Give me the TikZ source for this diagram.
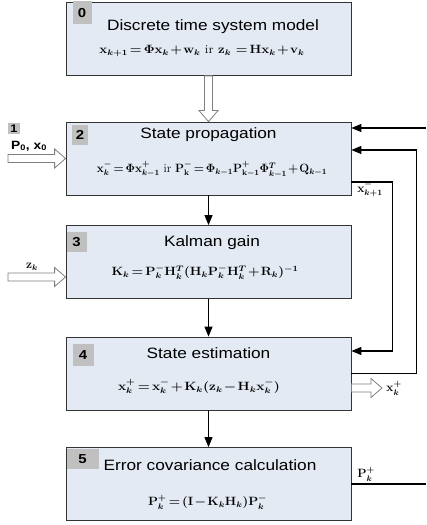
\documentclass[tikz,border=0pt]{standalone}
\usepackage{amsmath}
\usepackage{graphicx}
\usepackage{fontspec}
\newfontfamily\titlefont[FakeStretch=1.15]{Liberation Sans}
\usetikzlibrary{arrows.meta,calc}

\definecolor{boxfill}{HTML}{E4EAF4}
\definecolor{badgegray}{HTML}{C0C0C0}
\definecolor{hollowgray}{HTML}{7F7F7F}

\tikzset{
  stage/.style={draw=black!80, fill=boxfill, line width=0.8pt, minimum width=285pt, minimum height=73pt, inner sep=0pt},
  badge/.style={fill=badgegray, inner sep=0pt, font=\titlefont\bfseries\fontsize{13}{13}\selectfont},
  heading/.style={inner sep=1pt, font=\titlefont\fontsize{15}{15}\selectfont},
  formula/.style={inner sep=1pt, font=\boldmath\fontsize{12}{14}\selectfont},
  flow/.style={line width=1.1pt, -{Triangle[length=10pt,width=8pt]}},
  feedback/.style={line width=1.1pt},
  hollow/.style={draw=hollowgray, fill=white, line width=0.8pt}
}

\newcommand{\tightmath}{\medmuskip=1.5mu\relax\thickmuskip=2.5mu\relax}
\newcommand{\eqzero}{\resizebox{205pt}{\height}{\tightmath$\mathbf{x}_{k+1}=\mathbf{\Phi}\mathbf{x}_k+\mathbf{w}_k\mbox{ ir }\mathbf{z}_k\,=\mathbf{H}\mathbf{x}_k+\mathbf{v}_k$}}
\newcommand{\eqtwo}{\resizebox{230pt}{\height}{\tightmath$\mathbf{x}_k^-=\mathbf{\Phi}\mathbf{x}_{k-1}^+\mbox{ ir }\mathbf{P}_{\mathbf{k}}^-=\mathbf{\Phi}_{k-1}\mathbf{P}_{\mathbf{k-1}}^+\mathbf{\Phi}_{k-1}^T+\mathbf{Q}_{k-1}$}}
\newcommand{\eqthree}{\resizebox{187pt}{\height}{\tightmath$\mathbf{K}_k=\mathbf{P}_k^-\mathbf{H}_k^T(\mathbf{H}_k\mathbf{P}_k^-\mathbf{H}_k^T+\mathbf{R}_k)^{-1}$}}
\newcommand{\eqfour}{\resizebox{162pt}{\height}{\tightmath$\mathbf{x}_k^+=\mathbf{x}_k^-+\mathbf{K}_k(\mathbf{z}_k-\mathbf{H}_k\mathbf{x}_k^-)$}}
\newcommand{\eqfive}{\resizebox{119pt}{\height}{\tightmath$\mathbf{P}_k^+=(\mathbf{I}-\mathbf{K}_k\mathbf{H}_k)\mathbf{P}_k^-$}}

\begin{document}
\begin{tikzpicture}[x=1pt,y=1pt]
\useasboundingbox (0,0) rectangle (426,525);

% stage boxes
\node[stage] (b0) at (208.5,486) {};
\node[stage] (b2) at (208.5,366.5) {};
\node[stage] (b3) at (208.5,263) {};
\node[stage] (b4) at (208.5,151.5) {};
\node[stage] (b5) at (208.5,41) {};

% number badges
\node[badge, minimum width=19pt, minimum height=23pt] (n0) at ($(b0.north west)+(16.5,-10.5)$) {0};
\node[badge, minimum width=16pt, minimum height=20pt] (n2) at ($(b2.north west)+(14.5,-13)$) {2};
\node[badge, minimum width=20pt, minimum height=20pt] (n3) at ($(b3.north west)+(11,-17)$) {3};
\node[badge, minimum width=21pt, minimum height=22pt] (n4) at ($(b4.north west)+(17.5,-18)$) {4};
\node[badge, minimum width=32pt, minimum height=20pt] (n5) at ($(b5.north west)+(17,-12)$) {5};
\node[badge, minimum width=12pt, minimum height=11pt, font=\titlefont\bfseries\fontsize{11}{11}\selectfont] (n1) at (14,396.5) {1};

% titles
\node[heading] (t0) at ($(b0.north)+(4.5,-25)$) {Discrete time system model};
\node[heading] (t2) at ($(b2.north)+(0,-13)$) {State propagation};
\node[heading] (t3) at ($(b3.north)+(3.5,-18)$) {Kalman gain};
\node[heading] (t4) at ($(b4.north)+(0,-17)$) {State estimation};
\node[heading] (t5) at ($(b5.north)+(1.5,-18)$) {Error covariance calculation};

% formulas
\node[formula] (f0) at ($(b0.north)+(-6.5,-49)$) {\eqzero};
\node[formula] (f2) at ($(b2.north)+(3.5,-48)$) {\eqtwo};
\node[formula] (f3) at ($(b3.north)+(-3.5,-47)$) {\eqthree};
\node[formula] (f4) at ($(b4.north)+(-9.5,-50)$) {\eqfour};
\node[formula] (f5) at ($(b5.north)+(-1,-55)$) {\eqfive};

% inputs and output
\coordinate (p0in) at (8,366.5);
\coordinate (zin) at (8,248);
\coordinate (xout) at (382,137);
\node[font=\titlefont\bfseries\fontsize{12}{12}\selectfont, inner sep=1pt] (p0lab) at (29,379) {P\textsubscript{0}, x\textsubscript{0}};
\node[formula] (zlab) at (32,258) {$\mathbf{z}_k$};
\node[formula] (xlab) at (394,137) {$\mathbf{x}_k^+$};

% hollow arrows
\path[hollow] let \p1=(b0.south), \p2=(b2.north) in
  (\p2) -- ++(-9.5,11) -- ++(5.5,0) -- ($(\p1)+(-4,0)$) -- ++(8,0) -- ($(\p2)+(4,11)$) -- ++(5.5,0) -- cycle;
\path[hollow] let \p1=(p0in), \p2=(b2.west) in
  (\p2) -- ++(-11,9.5) -- ++(0,-5.5) -- ($(\p1)+(0,4)$) -- ++(0,-8) -- ($(\p2)+(-11,-4)$) -- ++(0,-5.5) -- cycle;
\path[hollow] let \p1=(zin), \p2=($(b3.west)+(0,-15)$) in
  (\p2) -- ++(-11,9.5) -- ++(0,-5.5) -- ($(\p1)+(0,4)$) -- ++(0,-8) -- ($(\p2)+(-11,-4)$) -- ++(0,-5.5) -- cycle;
\path[hollow] let \p1=($(b4.east)+(0,-14.5)$), \p2=(xout) in
  (\p2) -- ++(-11,9.5) -- ++(0,-5.5) -- ($(\p1)+(0,4)$) -- ++(0,-8) -- ($(\p2)+(-11,-4)$) -- ++(0,-5.5) -- cycle;

% forward arrows
\draw[flow] (b2) -- (b3);
\draw[flow] (b3) -- (b4);
\draw[flow] (b4) -- (b5);

% feedback loops
\draw[flow] ([yshift=-23.5pt]b2.east) -- ++(41,0) |- ([yshift=22.5pt]b4.east);
\draw[flow] (b4.east) -- ++(65,0) |- ([yshift=8.5pt]b2.east);
\coordinate (pout) at (426,41);
\coordinate (pback) at (426,397);
\draw[feedback] (b5.east) -- (pout);
\draw[flow] (pback) -- (b2.east |- pback);
\node[formula] (xplab) at (370,336) {$\mathbf{x}_{k+1}^-$};
\node[formula] (pplab) at (366,51) {$\mathbf{P}_k^+$};

\end{tikzpicture}
\end{document}
